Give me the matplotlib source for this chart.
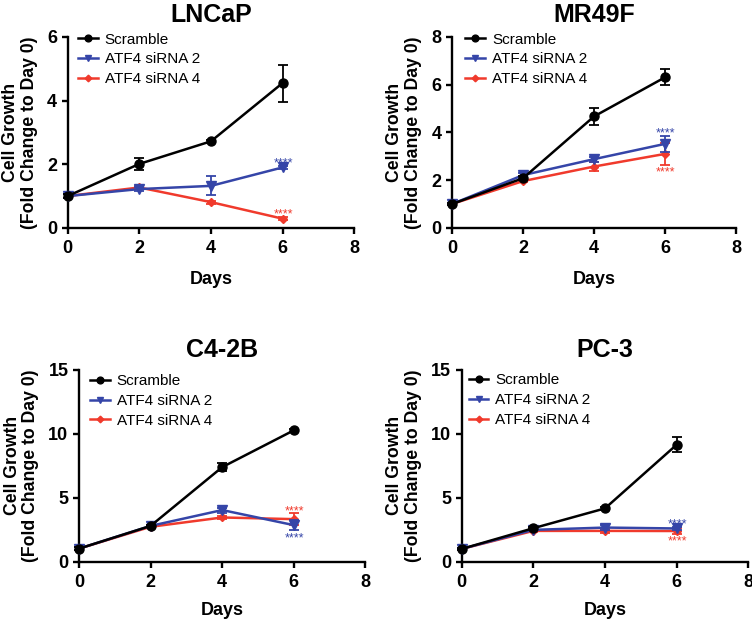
import matplotlib
matplotlib.use('Agg')
import matplotlib.pyplot as plt
from matplotlib.lines import Line2D

plt.rcParams['font.family'] = ['Liberation Sans', 'DejaVu Sans']

days = [0, 2, 4, 6]
labels = ['Scramble', 'ATF4 siRNA 2', 'ATF4 siRNA 4']
colors = ['black', '#3545a8', '#f03a2c']
markers = ['o', 'v', 'D']
msizes = [6.5, 6.5, 4.5]

# LNCaP
lncap_scr = [1.0, 2.01, 2.72, 4.55]
lncap_scr_err = [0.05, 0.18, 0.05, 0.58]
lncap_si2 = [1.0, 1.22, 1.32, 1.9]
lncap_si2_err = [0.05, 0.05, 0.3, 0.05]
lncap_si4 = [1.0, 1.27, 0.81, 0.29]
lncap_si4_err = [0.05, 0.05, 0.05, 0.05]

# MR49F
mr49f_scr = [1.0, 2.08, 4.67, 6.31]
mr49f_scr_err = [0.05, 0.08, 0.35, 0.33]
mr49f_si2 = [1.0, 2.21, 2.88, 3.52]
mr49f_si2_err = [0.05, 0.1, 0.1, 0.34]
mr49f_si4 = [1.0, 1.96, 2.57, 3.1]
mr49f_si4_err = [0.05, 0.05, 0.2, 0.45]

# C4-2B
c42b_scr = [1.02, 2.8, 7.4, 10.28]
c42b_scr_err = [0.1, 0.1, 0.3, 0.1]
c42b_si2 = [1.02, 2.8, 4.04, 2.86]
c42b_si2_err = [0.1, 0.1, 0.2, 0.4]
c42b_si4 = [1.02, 2.73, 3.46, 3.33]
c42b_si4_err = [0.1, 0.1, 0.1, 0.45]

# PC-3
pc3_scr = [1.0, 2.62, 4.17, 9.15]
pc3_scr_err = [0.1, 0.1, 0.1, 0.6]
pc3_si2 = [1.0, 2.49, 2.67, 2.6]
pc3_si2_err = [0.1, 0.1, 0.2, 0.15]
pc3_si4 = [1.0, 2.41, 2.41, 2.4]
pc3_si4_err = [0.1, 0.1, 0.15, 0.2]

panels = [
    ('LNCaP', [0.090, 0.633, 0.381, 0.3076], 6, [0, 2, 4, 6],
     [lncap_scr, lncap_si2, lncap_si4], [lncap_scr_err, lncap_si2_err, lncap_si4_err],
     [1, 1], (0.036, 1.022), 11, -0.105, 10),
    ('MR49F', [0.601, 0.633, 0.378, 0.3076], 8, [0, 2, 4, 6, 8],
     [mr49f_scr, mr49f_si2, mr49f_si4], [mr49f_scr_err, mr49f_si2_err, mr49f_si4_err],
     [1, -1], (0.047, 1.022), 11, -0.107, 10),
    ('C4-2B', [0.105, 0.0955, 0.381, 0.3087], 15, [0, 5, 10, 15],
     [c42b_scr, c42b_si2, c42b_si4], [c42b_scr_err, c42b_si2_err, c42b_si4_err],
     [-1, 1], (0.038, 0.978), 9.6, -0.14, 8),
    ('PC-3', [0.614, 0.0955, 0.381, 0.3087], 15, [0, 5, 10, 15],
     [pc3_scr, pc3_si2, pc3_si4], [pc3_scr_err, pc3_si2_err, pc3_si4_err],
     [1, -1], (0.024, 0.983), 9.6, -0.14, 8),
]

fig = plt.figure(figsize=(7.52, 6.21), dpi=100)

handles = [Line2D([], [], color=colors[i], marker=markers[i], markersize=msizes[i] * 0.75,
                  linewidth=1.8) for i in range(3)]

for title, rect, ymax, yticks, series, errs, star_dirs, leg_pos, tpad, ylab_x, xlpad in panels:
    ax = fig.add_axes(rect)
    for i in range(3):
        ax.errorbar(days, series[i], yerr=errs[i], color=colors[i], marker=markers[i],
                    markersize=msizes[i], linewidth=1.8, elinewidth=1.3, capsize=3.8,
                    capthick=1.3, clip_on=False, zorder=3 + (2 - i))
    # significance stars at day 6 for the two siRNA series
    for i, d in zip([1, 2], star_dirs):
        yv = series[i][-1] + d * errs[i][-1]
        ax.annotate('****', (6, yv), xytext=(0.5, -0.5 if d > 0 else -8.1),
                    textcoords='offset points', ha='center', va='baseline',
                    fontsize=9, color=colors[i])
    ax.set_xlim(0, 8)
    ax.set_ylim(0, ymax)
    ax.set_xticks([0, 2, 4, 6, 8])
    ax.set_yticks(yticks)
    for s in ['top', 'right']:
        ax.spines[s].set_visible(False)
    for s in ['left', 'bottom']:
        ax.spines[s].set_linewidth(1.7)
    ax.tick_params(width=1.7, length=4.1, labelsize=13)
    ax.tick_params(axis='x', pad=4.5)
    for lab in ax.get_xticklabels() + ax.get_yticklabels():
        lab.set_fontweight('bold')
    ax.set_xlabel('Days', fontsize=13, fontweight='bold', labelpad=xlpad)
    ax.set_ylabel('Cell Growth\n(Fold Change to Day 0)', fontsize=12.7, fontweight='bold',
                  linespacing=1.1)
    ax.yaxis.set_label_coords(ylab_x, 0.5)
    ax.set_title(title, fontsize=18, fontweight='bold', pad=tpad)
    ax.legend(handles, labels, loc='upper left', bbox_to_anchor=leg_pos, frameon=False,
              fontsize=11, handlelength=1.3, handletextpad=0.45, labelspacing=0.38,
              borderpad=0, borderaxespad=0)

plt.savefig('out.png', dpi=100)
